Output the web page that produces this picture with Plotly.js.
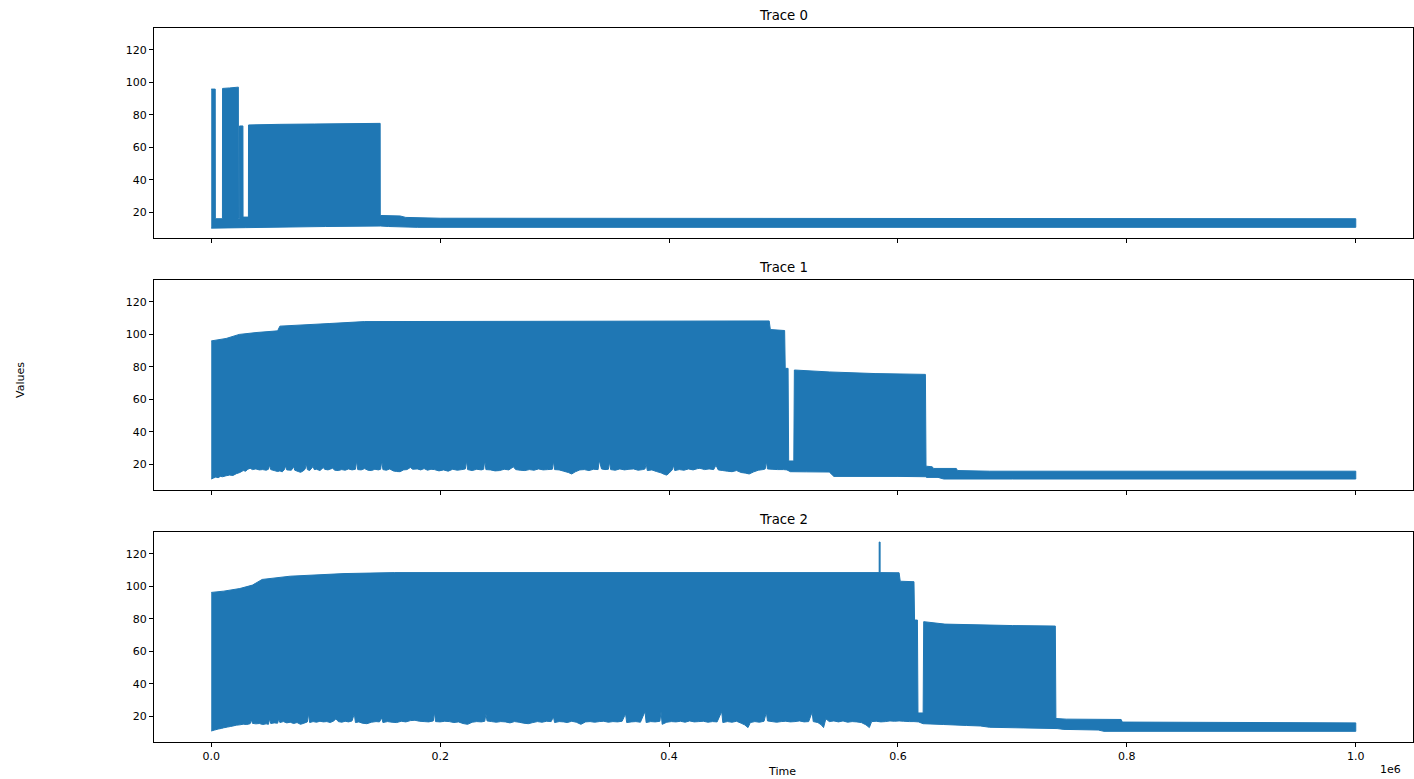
<!DOCTYPE html>
<html>
<head>
<meta charset="utf-8">
<script src="https://cdn.plot.ly/plotly-3.0.1.min.js"></script>
<style>html,body{margin:0;padding:0;background:#fff;}#chart{width:1414px;height:779px;}</style>
</head>
<body>
<div id="chart"></div>
<script>
// Envelopes of each dense trace.
// Times are in thousands (x 1e3), values in the chart's units.
const trace0UpperTimeK = [0, 3.5, 3.6, 9.8, 9.9, 16, 23.7, 23.8, 24.6, 24.7, 27.7, 27.8, 32.5, 32.6, 60, 90, 147.6, 147.7, 165, 170, 200, 1000];
const trace0UpperVal   = [95.8, 95.8, 16.0, 16.0, 96.2, 96.5, 97.0, 16.2, 16.2, 73.1, 73.1, 17.0, 17.0, 73.7, 74.1, 74.3, 74.7, 18.0, 17.7, 16.8, 16.3, 16.0];
const trace0LowerTimeK = [0, 30, 100, 148, 155, 180, 1000];
const trace0LowerVal   = [10.2, 10.5, 11.2, 11.5, 11.2, 10.7, 10.7];

const trace1UpperTimeK = [0, 13, 24.5, 40, 58, 60, 103, 134, 487.5, 488.5, 501, 501.5, 504, 504.5, 509, 509.5, 540, 580, 624, 624.5, 630, 631, 651, 652, 680, 1000];
const trace1UpperVal   = [95.9, 97.4, 99.9, 101.1, 102.1, 105.0, 106.6, 107.8, 108.2, 102.9, 102.3, 79.0, 79.0, 22.0, 22.0, 78.0, 76.8, 75.8, 75.3, 18.8, 18.4, 17.4, 17.4, 16.1, 15.7, 15.7];
const trace1LowerTimeK = [0, 2, 4, 6, 8, 10, 13, 16, 19, 22, 25, 28, 30, 32, 34, 36, 39, 42, 45, 48, 50, 51, 52, 55, 58, 60, 62, 64, 65, 66, 70, 72, 73, 76, 78, 80, 82, 83, 84, 86, 89, 90, 92, 95, 98, 99, 102, 106, 108, 111, 114, 117, 120, 123, 126, 127, 128, 131, 134, 137, 140, 143, 146, 148, 149, 150, 153, 156, 159, 162, 165, 168, 171, 174, 176, 180, 183, 186, 189, 192, 195, 199, 203, 207, 211, 215, 219, 222, 223, 224, 228, 232, 236, 238, 239, 240, 244, 248, 252, 256, 260, 264, 266, 270, 274, 278, 282, 286, 290, 294, 298, 299, 300, 304, 308, 312, 315, 318, 322, 326, 330, 334, 338, 339, 341, 344, 347, 348, 349, 353, 357, 361, 365, 369, 373, 377, 379, 380, 381, 385, 389, 393, 396, 398, 400, 403, 404, 405, 409, 413, 417, 421, 425, 427, 431, 435, 439, 441, 443, 447, 451, 455, 459, 463, 467, 470, 474, 478, 482, 484, 485, 486, 490, 495, 500, 503, 506, 520, 540, 544, 600, 624, 625, 635, 640, 700, 1000];
const trace1LowerVal   = [10.9, 11.5, 12.1, 11.7, 12.5, 12.3, 12.9, 13.3, 13.1, 14.2, 14.9, 16.1, 15.7, 16.9, 17.5, 16.7, 17.1, 16.5, 16.7, 16.3, 16.9, 19.5, 16.7, 16.1, 15.5, 15.9, 15.3, 16.7, 19.0, 16.5, 16.3, 18.5, 16.3, 15.5, 15.0, 15.7, 16.9, 20.5, 16.7, 16.1, 18.6, 16.7, 16.9, 16.1, 18.0, 16.9, 16.5, 17.5, 16.3, 16.1, 16.7, 16.3, 17.1, 16.5, 16.9, 22.1, 16.7, 16.5, 17.3, 16.3, 16.1, 16.9, 16.5, 16.9, 22.1, 16.7, 16.3, 17.1, 15.9, 15.5, 15.4, 16.5, 16.7, 18.0, 16.9, 17.1, 16.5, 17.3, 16.3, 16.9, 16.7, 15.9, 16.5, 15.7, 16.9, 16.3, 16.7, 17.1, 22.1, 16.7, 16.1, 16.9, 16.5, 16.9, 22.5, 16.7, 16.5, 15.9, 16.1, 16.9, 16.5, 18.4, 16.7, 16.3, 16.1, 16.7, 16.3, 17.1, 16.5, 16.7, 16.9, 21.9, 16.7, 16.5, 15.7, 14.9, 14.0, 15.3, 16.5, 16.7, 16.1, 16.9, 16.7, 22.5, 17.1, 16.7, 16.9, 21.5, 16.7, 16.3, 17.1, 16.5, 16.9, 17.1, 16.3, 16.7, 17.1, 20.5, 16.1, 16.5, 15.5, 14.7, 13.7, 13.3, 14.5, 16.7, 19.4, 16.1, 16.7, 16.3, 17.1, 16.5, 17.3, 17.5, 16.7, 17.1, 16.7, 19.4, 16.5, 16.1, 15.7, 15.4, 16.1, 14.9, 14.5, 14.0, 15.3, 16.3, 16.7, 17.1, 21.9, 17.1, 16.9, 16.7, 16.7, 16.5, 15.4, 15.3, 15.2, 12.5, 12.5, 12.3, 11.9, 11.9, 10.9, 10.9, 10.9];

const trace2UpperTimeK = [0, 11, 25, 36, 44.5, 69, 116, 160, 583.6, 583.6, 584.4, 584.4, 601, 602, 614, 614.5, 617, 617.5, 622, 622.5, 641, 700, 737.5, 738, 747, 795, 796, 1000];
const trace2UpperVal   = [96.2, 97.0, 98.6, 100.7, 104.2, 106.2, 107.8, 108.4, 108.4, 127.2, 127.2, 108.4, 108.3, 103.1, 102.8, 79.2, 79.2, 22.0, 22.0, 78.2, 76.7, 75.8, 75.5, 18.6, 18.2, 18.0, 16.4, 15.9];
const trace2LowerTimeK = [0, 3, 6, 9, 11, 14, 17, 19, 22, 25, 28, 31, 34, 35, 36, 39, 42, 45, 48, 50, 51, 52, 55, 58, 59, 60, 63, 66, 69, 72, 75, 78, 81, 84, 85, 86, 89, 92, 95, 98, 101, 104, 107, 109, 111, 114, 117, 120, 123, 125, 126, 129, 132, 136, 140, 144, 147, 149, 150, 154, 158, 162, 166, 170, 174, 178, 182, 186, 190, 194, 195, 196, 200, 204, 208, 212, 216, 220, 224, 228, 232, 236, 239, 240, 241, 245, 249, 253, 257, 261, 265, 269, 273, 277, 281, 285, 289, 293, 297, 299, 300, 304, 308, 311, 315, 319, 323, 327, 331, 335, 339, 343, 347, 351, 355, 359, 362, 363, 367, 371, 375, 379, 380, 384, 388, 392, 393, 394, 398, 402, 406, 410, 414, 418, 422, 426, 430, 434, 438, 442, 446, 447, 451, 455, 459, 463, 466, 469, 471, 475, 479, 483, 485, 486, 490, 494, 498, 502, 506, 510, 514, 518, 522, 525, 526, 530, 533, 535, 537, 540, 544, 548, 552, 556, 560, 564, 568, 572, 575, 577, 581, 585, 589, 593, 597, 601, 605, 610, 614, 618, 622, 640, 660, 672, 680, 710, 739, 745, 775, 780, 1000];
const trace2LowerVal   = [10.9, 11.5, 12.1, 12.5, 12.9, 13.3, 13.7, 14.0, 14.5, 14.7, 15.1, 14.9, 15.4, 17.8, 15.6, 15.3, 15.5, 14.9, 15.3, 15.0, 18.4, 15.5, 15.9, 15.7, 18.4, 16.1, 16.7, 15.9, 16.3, 15.5, 16.1, 15.0, 15.7, 16.5, 21.5, 16.1, 16.7, 16.3, 16.9, 16.5, 16.7, 16.1, 17.1, 18.4, 16.7, 16.3, 16.9, 16.5, 17.1, 21.5, 16.1, 16.5, 15.7, 15.4, 16.3, 16.7, 16.5, 19.0, 16.1, 16.7, 16.3, 16.1, 16.9, 16.5, 17.3, 17.5, 16.9, 16.7, 16.5, 17.1, 22.5, 16.7, 16.5, 16.9, 16.7, 16.1, 16.5, 15.5, 15.0, 16.3, 16.7, 16.5, 16.9, 21.5, 17.1, 16.7, 16.3, 16.7, 16.5, 15.9, 16.7, 16.3, 15.7, 15.4, 16.1, 16.7, 16.3, 16.9, 16.7, 19.6, 16.1, 16.7, 16.5, 16.1, 16.9, 16.3, 15.0, 16.5, 16.7, 16.3, 16.7, 16.9, 16.3, 16.7, 16.5, 16.9, 21.5, 16.1, 16.5, 16.7, 16.3, 22.9, 16.1, 16.7, 16.5, 16.9, 22.9, 15.0, 16.3, 16.7, 16.5, 16.9, 16.3, 17.1, 16.5, 16.7, 16.9, 16.3, 16.7, 16.5, 22.9, 16.1, 16.7, 16.3, 16.9, 15.7, 14.7, 13.0, 16.1, 16.7, 16.3, 16.9, 22.5, 17.1, 16.7, 16.3, 16.7, 16.9, 16.5, 16.7, 17.1, 16.5, 16.7, 22.5, 16.7, 16.1, 14.7, 13.0, 18.4, 16.7, 17.1, 16.5, 17.1, 16.3, 16.7, 16.5, 16.1, 14.7, 13.0, 16.7, 16.9, 16.5, 16.7, 17.1, 16.9, 17.1, 16.9, 16.7, 16.7, 16.5, 15.4, 14.9, 14.3, 14.0, 13.2, 12.8, 12.4, 11.9, 11.5, 10.7, 10.7];

const titles = ["Trace 0", "Trace 1", "Trace 2"];
const xTickVals = [0, 200000, 400000, 600000, 800000, 1000000];
const xTickText = ["0.0", "0.2", "0.4", "0.6", "0.8", "1.0"];
const yTickVals = [20, 40, 60, 80, 100, 120];

const blue = '#1f77b4';
function band(upT, upV, loT, loV, xa, ya) {
  const up = upT.map(t => t * 1000);
  const lo = loT.map(t => t * 1000);
  return {
    type: 'scatter', mode: 'lines',
    x: up.concat(lo.slice().reverse()),
    y: upV.concat(loV.slice().reverse()),
    fill: 'toself', fillcolor: blue,
    line: {color: blue, width: 1, simplify: false},
    xaxis: xa, yaxis: ya, hoverinfo: 'skip', showlegend: false
  };
}

const data = [
  band(trace0UpperTimeK, trace0UpperVal, trace0LowerTimeK, trace0LowerVal, 'x', 'y'),
  band(trace1UpperTimeK, trace1UpperVal, trace1LowerTimeK, trace1LowerVal, 'x2', 'y2'),
  band(trace2UpperTimeK, trace2UpperVal, trace2LowerTimeK, trace2LowerVal, 'x3', 'y3')
];

const font = {family: 'DejaVu Sans, sans-serif', size: 11, color: '#000'};
const titleFont = {family: 'DejaVu Sans, sans-serif', size: 13.3, color: '#000'};
function xax(showLabels, anchor) {
  return {
    range: [-50000, 1050000], tickmode: 'array', tickvals: xTickVals, ticktext: xTickText,
    showticklabels: showLabels, ticks: 'outside', ticklen: 4, tickwidth: 1, tickcolor: '#000',
    showline: true, linecolor: '#000', linewidth: 1, mirror: true, showgrid: false, zeroline: false,
    tickfont: font, anchor: anchor
  };
}
function yax(domain, anchor) {
  return {
    domain: domain, range: [4.13, 133.4], tickmode: 'array', tickvals: yTickVals,
    ticks: 'outside', ticklen: 4, tickwidth: 1, tickcolor: '#000',
    showline: true, linecolor: '#000', linewidth: 1, mirror: true, showgrid: false, zeroline: false,
    tickfont: font, anchor: anchor
  };
}

const H = 714, W = 1259, L = 154;
const layout = {
  width: 1414, height: 779,
  margin: {l: L, r: 1, t: 28, b: 37},
  paper_bgcolor: '#fff', plot_bgcolor: '#fff',
  font: font,
  showlegend: false,
  xaxis: xax(false, 'y'),
  yaxis: yax([(742 - 238) / H, 1], 'x'),
  xaxis2: xax(false, 'y2'),
  yaxis2: yax([(742 - 490) / H, (742 - 280) / H], 'x2'),
  xaxis3: xax(true, 'y3'),
  yaxis3: yax([0, (742 - 532) / H], 'x3'),
  annotations: [
    {text: titles[0], xref: 'paper', yref: 'paper', x: 0.5, y: (742 - 15) / H, xanchor: 'center', yanchor: 'middle', showarrow: false, font: titleFont},
    {text: titles[1], xref: 'paper', yref: 'paper', x: 0.5, y: (742 - 267) / H, xanchor: 'center', yanchor: 'middle', showarrow: false, font: titleFont},
    {text: titles[2], xref: 'paper', yref: 'paper', x: 0.5, y: (742 - 519) / H, xanchor: 'center', yanchor: 'middle', showarrow: false, font: titleFont},
    {text: 'Time', xref: 'paper', yref: 'paper', x: (782 - L) / W, y: (742 - 771) / H, xanchor: 'center', yanchor: 'middle', showarrow: false, font: font},
    {text: '1e6', xref: 'paper', yref: 'paper', x: (1390 - L) / W, y: (742 - 769) / H, xanchor: 'center', yanchor: 'middle', showarrow: false, font: font},
    {text: 'Values', xref: 'paper', yref: 'paper', x: (20 - L) / W, y: (742 - 380) / H, xanchor: 'center', yanchor: 'middle', textangle: -90, showarrow: false, font: font}
  ]
};

Plotly.newPlot('chart', data, layout, {staticPlot: true, displayModeBar: false});
</script>
</body>
</html>
